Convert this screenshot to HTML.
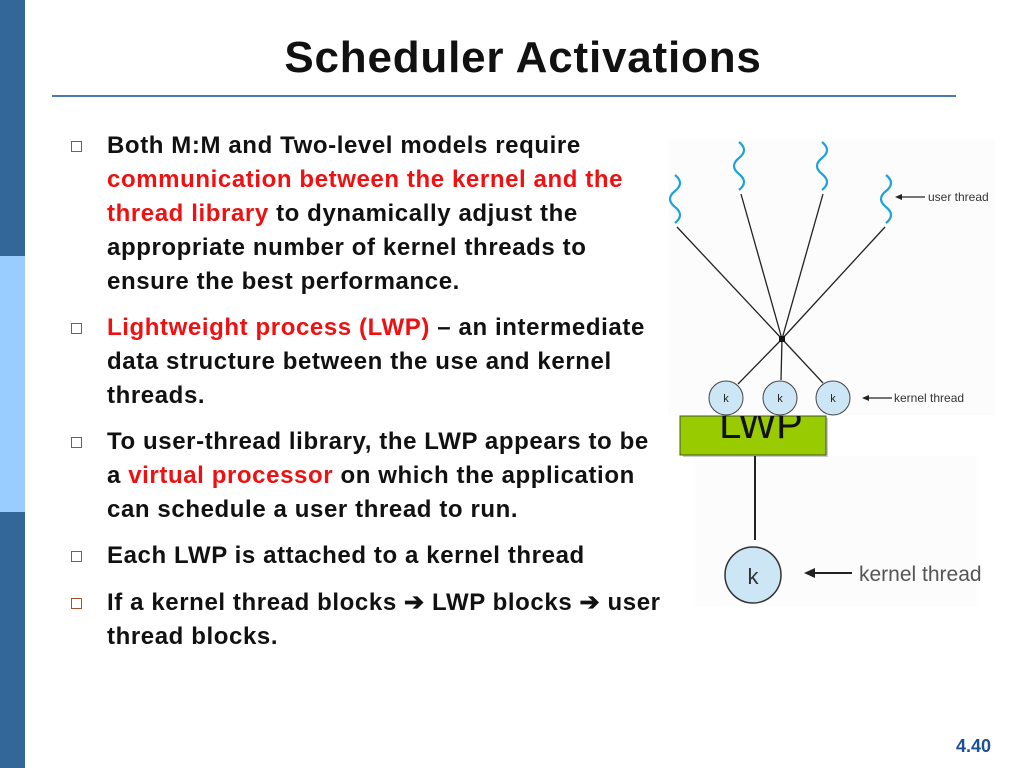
<!DOCTYPE html>
<html><head><style>
body{margin:0;width:1024px;height:768px;position:relative;background:#fff;font-family:"Liberation Sans",sans-serif;overflow:hidden}
.bar{position:absolute;left:0;width:25px}
.t{position:absolute;left:107px;font-weight:bold;font-size:24px;letter-spacing:0.6px;color:#111;white-space:nowrap;line-height:34px}
.r{color:#ee1111}
.b{position:absolute;left:71px;width:9px;height:9px;border:1.5px solid #a0522d;box-sizing:content-box}
</style></head><body>
<div class="bar" style="top:0;height:256px;background:#336699"></div>
<div class="bar" style="top:256px;height:256px;background:#99ccff"></div>
<div class="bar" style="top:512px;height:256px;background:#336699"></div>
<div style="position:absolute;left:0;right:0;top:33px;text-align:center;padding-left:22px;font-weight:bold;font-size:44px;letter-spacing:0.8px;color:#111">Scheduler Activations</div>
<div style="position:absolute;left:52px;top:95px;width:904px;height:2px;background:#4a7ab0"></div>

<div class="b" style="top:141px"></div>
<div class="t" style="top:129px">Both M:M and Two-level models require</div>
<div class="t r" style="top:163px">communication between the kernel and the</div>
<div class="t" style="top:197px"><span class="r">thread library</span> to dynamically adjust the</div>
<div class="t" style="top:231px">appropriate number of kernel threads to</div>
<div class="t" style="top:265px">ensure the best performance.</div>
<div class="b" style="top:323px"></div>
<div class="t" style="top:311px"><span class="r">Lightweight process (LWP)</span> – an intermediate</div>
<div class="t" style="top:345px">data structure between the use and kernel</div>
<div class="t" style="top:379px">threads.</div>
<div class="b" style="top:437px"></div>
<div class="t" style="top:425px">To user-thread library, the LWP appears to be</div>
<div class="t" style="top:459px">a <span class="r">virtual processor</span> on which the application</div>
<div class="t" style="top:493px">can schedule a user thread to run.</div>
<div class="b" style="top:551px"></div>
<div class="t" style="top:539px">Each LWP is attached to a kernel thread</div>
<div class="b" style="top:598px"></div>
<div class="t" style="top:586px">If a kernel thread blocks ➔ LWP blocks ➔ user</div>
<div class="t" style="top:620px">thread blocks.</div>

<svg width="1024" height="768" style="position:absolute;left:0;top:0" xmlns="http://www.w3.org/2000/svg">
<rect x="668" y="140" width="327" height="275" fill="#fcfcfc"/>
<rect x="695" y="456" width="282" height="150" fill="#fcfcfc"/>
<g fill="none" stroke="#1aa3d9" stroke-width="2.2">
<path d="M675 175 q10 8 0 16 q-10 8 0 16 q10 8 0 16"/>
<path d="M739 142 q10 8 0 16 q-10 8 0 16 q10 8 0 16"/>
<path d="M822 142 q10 8 0 16 q-10 8 0 16 q10 8 0 16"/>
<path d="M886 175 q10 8 0 16 q-10 8 0 16 q10 8 0 16"/>
</g>
<g stroke="#222" stroke-width="1.3">
<line x1="677" y1="227" x2="782" y2="339"/>
<line x1="741" y1="194" x2="782" y2="339"/>
<line x1="823" y1="194" x2="782" y2="339"/>
<line x1="885" y1="227" x2="782" y2="339"/>
<line x1="782" y1="339" x2="738" y2="384"/>
<line x1="782" y1="339" x2="781" y2="380"/>
<line x1="782" y1="339" x2="823" y2="383"/>
</g>
<rect x="779" y="336" width="6" height="6" fill="#111"/>
<g fill="#cce6f5" stroke="#444" stroke-width="1">
<circle cx="726" cy="398" r="17"/><circle cx="780" cy="398" r="17"/><circle cx="833" cy="398" r="17"/>
</g>
<g font-size="11" fill="#222" text-anchor="middle"><text x="726" y="402">k</text><text x="780" y="402">k</text><text x="833" y="402">k</text></g>
<line x1="899" y1="197" x2="925" y2="197" stroke="#222" stroke-width="1.3"/><path d="M895 197 l7 -3 v6z" fill="#222"/>
<text x="928" y="201" font-size="12" fill="#333">user thread</text>
<line x1="866" y1="398" x2="892" y2="398" stroke="#222" stroke-width="1.3"/><path d="M862 398 l7 -3 v6z" fill="#222"/>
<text x="894" y="402" font-size="12" fill="#333">kernel thread</text>
<rect x="683" y="418" width="145" height="39" fill="#999" opacity="0.5"/>
<rect x="680" y="416" width="146" height="39" fill="#99cc00" stroke="#445522" stroke-width="1"/>
<clipPath id="c"><rect x="680" y="416" width="146" height="40"/></clipPath>
<text x="761" y="438" font-size="40" text-anchor="middle" fill="#111" clip-path="url(#c)">LWP</text>
<line x1="755" y1="456" x2="755" y2="540" stroke="#222" stroke-width="2"/>
<circle cx="753" cy="575" r="28" fill="#cce6f5" stroke="#333" stroke-width="1.5"/>
<text x="753" y="584" font-size="22" text-anchor="middle" fill="#333">k</text>
<line x1="812" y1="573" x2="852" y2="573" stroke="#222" stroke-width="2"/><path d="M804 573 l11 -5 v10z" fill="#222"/>
<text x="859" y="581" font-size="21" fill="#555">kernel thread</text>
</svg>
<div style="position:absolute;left:956px;top:736px;font-weight:bold;font-size:18px;color:#1f4e99">4.40</div>
</body></html>
